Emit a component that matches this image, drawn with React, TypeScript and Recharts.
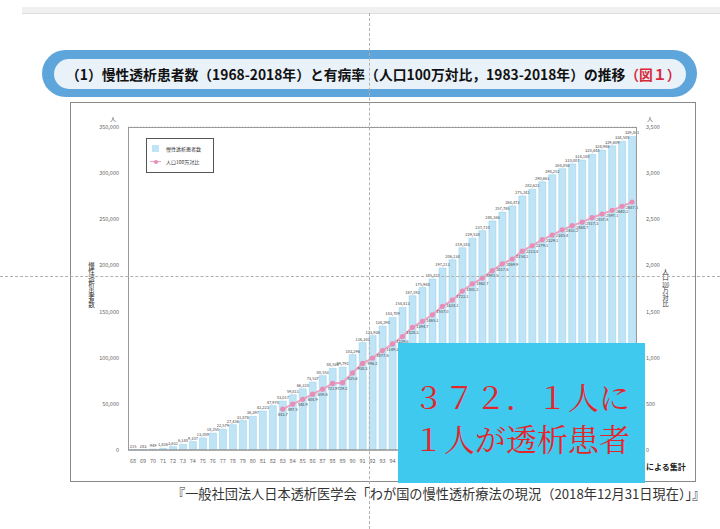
import React from 'react';
import { ComposedChart, Bar, Line, XAxis, YAxis, CartesianGrid, LabelList } from 'recharts';

const years = [
  '68', '69', '70', '71', '72', '73', '74', '75', '76', '77', '78', '79',
  '80', '81', '82', '83', '84', '85', '86', '87', '88', '89', '90', '91',
  '92', '93', '94', '95', '96', '97', '98', '99', '00', '01', '02', '03',
  '04', '05', '06', '07', '08', '09', '10', '11', '12', '13', '14', '15',
  '16', '17', '18',
];

// 慢性透析患者数 (人)
const patients = [
  215, 283, 949, 1826, 3631, 6148, 9107, 13059, 18250, 22579, 27436, 31876,
  36397, 42223, 47978, 53017, 59811, 66310, 73537, 80553, 88534, 89792, 103296, 116303,
  123926, 134298, 143709, 154413, 167192, 175988, 185322, 197213, 206134, 219183, 229538, 237710,
  248166, 257765, 264473, 275242, 282622, 290661, 298252, 304856, 310007, 314180, 320448, 324986,
  329609, 334505, 339841,
];

// 人口100万対比 (1983-2018)
const rate = [
  null, null, null, null, null, null, null, null, null, null, null, null,
  null, null, null, 443.7, 497.5, 548.9, 604.9, 659.6, 721.9, 729.2, 835.6, 938.3,
  996.2, 1077.6, 1149.3, 1229.6, 1328.3, 1394.7, 1465.1, 1557.0, 1624.1, 1722.1, 1801.2, 1862.7,
  1943.5, 2017.6, 2069.9, 2154.2, 2213.4, 2279.1, 2329.1, 2385.4, 2431.2, 2468.7, 2517.3, 2557.4,
  2597.1, 2640.2, 2687.1,
];

const leftTicks = [0, 50000, 100000, 150000, 200000, 250000, 300000, 350000];
const rightTicks = [0, 500, 1000, 1500, 2000, 2500, 3000, 3500];

const data = years.map((y, i) => ({ year: y, patients: patients[i], rate: rate[i] }));

const jp = '"Noto Sans CJK JP", "Noto Sans", sans-serif';
const noteFont = '"Noto Serif CJK JP", "Noto Sans CJK JP", serif';

const App: React.FC = () => {
  return (
    <div style={{ position: 'absolute', left: 0, top: 0, width: 720, height: 529, background: '#fff', overflow: 'hidden', fontFamily: jp }}>
      {/* page scan strip */}
      <div style={{ position: 'absolute', left: 22, top: 7, width: 698, height: 6, background: '#f0f0f0', borderBottom: '1px solid #ddd' }} />

      {/* title banner */}
      <div style={{ position: 'absolute', left: 42, top: 50, width: 655, height: 47, background: '#5da5da', borderRadius: 24 }} />
      <div style={{ position: 'absolute', left: 54, top: 59, width: 632, height: 30, background: '#e9f1f9', borderRadius: 15 }} />
      <div style={{ position: 'absolute', left: 66, top: 64, width: 625, height: 20, fontSize: 13.8, fontWeight: 700, color: '#111', whiteSpace: 'nowrap', lineHeight: '20px' }}>
        （1）慢性透析患者数（1968-2018年）と有病率（人口100万対比，1983-2018年）の推移<span style={{ color: '#d92a3a' }}>（図１）</span>
      </div>

      {/* chart frame */}
      <div style={{ position: 'absolute', left: 70, top: 102, width: 626, height: 380, border: '1px solid #8a8a8a', boxSizing: 'border-box' }} />

      <div style={{ position: 'absolute', left: 0, top: 0 }}>
        <ComposedChart width={720} height={529} data={data} margin={{ top: 127, right: 33, bottom: 59, left: 78 }} barCategoryGap="16%">
          <CartesianGrid vertical={false} stroke="#b5b5b5" strokeDasharray="1 2" />
          <XAxis
            dataKey="year"
            interval={0}
            height={20}
            tickLine={false}
            axisLine={{ stroke: '#999', strokeWidth: 1.5 }}
            tick={{ fontSize: 5.5, fill: '#666' }}
            tickMargin={3}
          />
          <YAxis
            yAxisId="left"
            width={50}
            domain={[0, 350000]}
            ticks={leftTicks}
            tickFormatter={(v: number) => v.toLocaleString('en-US')}
            tickLine={false}
            axisLine={false}
            tick={{ fontSize: 5.5, fill: '#666' }}
            tickMargin={3}
          />
          <YAxis
            yAxisId="right"
            orientation="right"
            width={50}
            domain={[0, 3500]}
            ticks={rightTicks}
            tickFormatter={(v: number) => v.toLocaleString('en-US')}
            tickLine={false}
            axisLine={false}
            tick={{ fontSize: 5.5, fill: '#666', textAnchor: 'start' }}
            tickMargin={3}
          />
          <Bar yAxisId="left" dataKey="patients" fill="#bfe4f6" stroke="#94cfe9" strokeWidth={0.5} isAnimationActive={false}>
            <LabelList dataKey="patients" position="top" offset={2} fontSize={4} fill="#444" formatter={(v: any) => Number(v).toLocaleString('en-US')} />
          </Bar>
          <Line
            yAxisId="right"
            dataKey="rate"
            stroke="#eba2c2"
            strokeWidth={2}
            dot={{ r: 2.6, fill: '#e88db5', stroke: 'none' }}
            connectNulls={false}
            isAnimationActive={false}
          >
            <LabelList dataKey="rate" position="bottom" offset={4} fontSize={4} fill="#444" formatter={(v: any) => (v == null ? '' : Number(v).toFixed(1))} />
          </Line>
        </ComposedChart>
      </div>

      {/* plot border */}
      <div style={{ position: 'absolute', left: 128, top: 127, width: 509, height: 323, border: '1.5px solid #9a9a9a', borderBottom: 'none', boxSizing: 'border-box', pointerEvents: 'none' }} />

      {/* units and axis titles */}
      <div style={{ position: 'absolute', left: 110, top: 114, fontSize: 6, color: '#555' }}>人</div>
      <div style={{ position: 'absolute', left: 647, top: 114, fontSize: 6, color: '#555' }}>人</div>
      <div style={{ position: 'absolute', left: 88, top: 262, fontSize: 6.5, color: '#333', writingMode: 'vertical-rl', lineHeight: 1 }}>慢性透析患者数</div>
      <div style={{ position: 'absolute', left: 662, top: 268, fontSize: 6.5, color: '#333', writingMode: 'vertical-rl', lineHeight: 1 }}>
        人口<span style={{ textCombineUpright: 'all' } as any}>100</span>万対比
      </div>

      {/* legend */}
      <div style={{ position: 'absolute', left: 146, top: 138, width: 68, height: 35, border: '1px solid #555', boxSizing: 'border-box', background: '#fff', fontSize: 5, color: '#333' }}>
        <div style={{ position: 'absolute', left: 5, top: 6, width: 7, height: 7, background: '#bfe4f6' }} />
        <div style={{ position: 'absolute', left: 19, top: 6, lineHeight: '7px' }}>慢性透析患者数</div>
        <div style={{ position: 'absolute', left: 3, top: 22, width: 11, height: 1, background: '#eba2c2' }} />
        <div style={{ position: 'absolute', left: 7, top: 20.5, width: 4, height: 4, borderRadius: 2, background: '#e88db5' }} />
        <div style={{ position: 'absolute', left: 19, top: 19, lineHeight: '7px' }}>人口100万対比</div>
      </div>

      <div style={{ position: 'absolute', left: 646, top: 461, fontSize: 8, fontWeight: 700, color: '#222', whiteSpace: 'nowrap' }}>による集計</div>

      {/* crosshair guides */}
      <div style={{ position: 'absolute', left: 369, top: 13, width: 0, height: 516, borderLeft: '1px dashed #b0b0b0' }} />
      <div style={{ position: 'absolute', left: 0, top: 276, width: 720, height: 0, borderTop: '1px dashed #b0b0b0' }} />

      {/* overlay note */}
      <div style={{ position: 'absolute', left: 398, top: 343, width: 247, height: 140, background: '#3fc9ef', zIndex: 5 }}>
        <div style={{ position: 'absolute', left: 0, top: 37, width: 247, textAlign: 'center', fontSize: 31, lineHeight: '32px', color: '#e3262b', fontFamily: noteFont, whiteSpace: 'nowrap' }}>
          ３７２．１人に
        </div>
        <div style={{ position: 'absolute', left: 0, top: 79, width: 247, textAlign: 'center', fontSize: 31, lineHeight: '32px', color: '#e3262b', fontFamily: noteFont, whiteSpace: 'nowrap' }}>
          １人が透析患者
        </div>
      </div>

      {/* source */}
      <div style={{ position: 'absolute', left: 172, top: 486, fontSize: 13.2, color: '#333', whiteSpace: 'nowrap', lineHeight: '16px' }}>
        『一般社団法人日本透析医学会「わが国の慢性透析療法の現況（2018年12月31日現在）」』
      </div>
    </div>
  );
};

export default App;
